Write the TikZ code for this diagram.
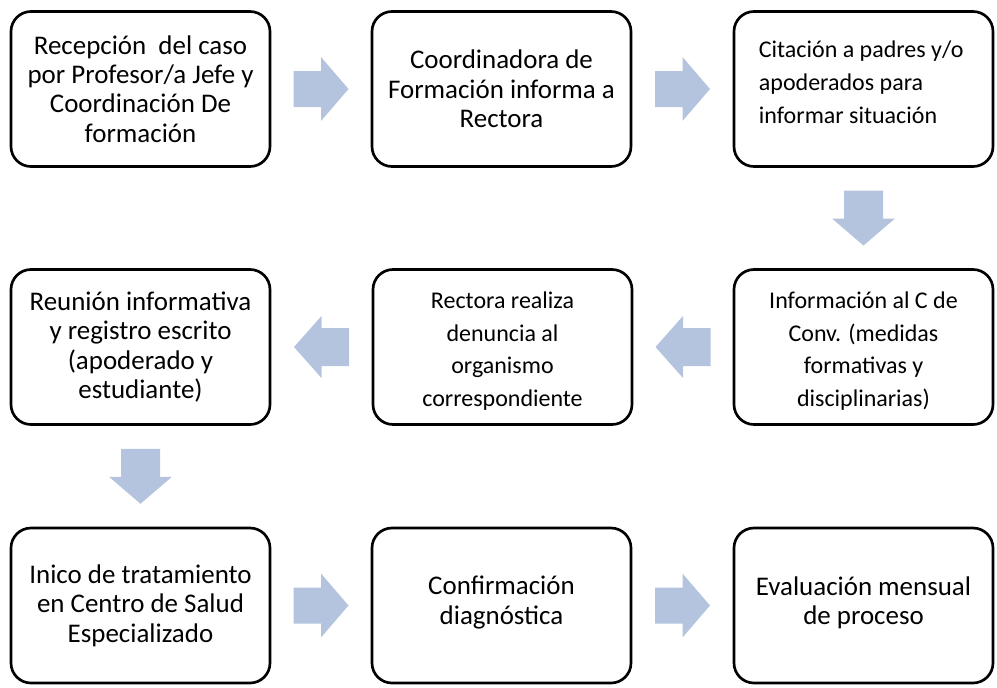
\documentclass[tikz,border=0pt]{standalone}
\usepackage{fontspec}
\setmainfont{Carlito}
\usetikzlibrary{calc}
\definecolor{arrowblue}{RGB}{180,196,222}
\newcommand\rightblock[1]{\fill[arrowfill, shift={#1}] (-27.5,-18) -- (0,-18) -- (0,-32) -- (27.5,0) -- (0,32) -- (0,18) -- (-27.5,18) -- cycle;}
\newcommand\leftblock[1]{\fill[arrowfill, shift={#1}] (27.5,-19) -- (0,-19) -- (0,-31) -- (-27.5,0) -- (0,31) -- (0,19) -- (27.5,19) -- cycle;}
\newcommand\downblock[1]{\fill[arrowfill, shift={#1}] (-19.5,-27.5) -- (-19.5,0.5) -- (-31.5,0.5) -- (0,27.5) -- (31.5,0.5) -- (19.5,0.5) -- (19.5,-27.5) -- cycle;}
\begin{document}
\begin{tikzpicture}[x=0.75pt,y=-0.75pt,
  box/.style={draw=black, line width=2pt, rounded corners=15pt, minimum width=194.25pt, minimum height=116.25pt, inner sep=0pt},
  big/.style={font=\fontsize{20.2pt}{22pt}\selectfont, align=center, inner sep=0pt},
  small/.style={font=\fontsize{18pt}{24.6pt}\selectfont, align=center, inner sep=0pt},
  arrowfill/.style={fill=arrowblue}]
\useasboundingbox (0,0) rectangle (997,687);
% boxes
\node[box] (b1) at (140.5,89) {};
\node[box] (b2) at (501.5,89) {};
\node[box] (b3) at (863.5,89) {};
\node[box] (b4) at (140.5,347) {};
\node[box] (b5) at (502.5,347) {};
\node[box] (b6) at (863.5,347) {};
\node[box] (b7) at (140.5,605.5) {};
\node[box] (b8) at (501.5,605.5) {};
\node[box] (b9) at (863.5,605.5) {};
% texts
\node[big] (t1) at (b1.center) {Recepción~~del caso\\por Profesor/a Jefe y\\Coordinación De\\formación};
\node[big] (t2) at (b2.center) {Coordinadora de\\Formación informa a\\Rectora};
\node[small, align=left, anchor=west] (t3) at ($(b3.west)+(26,-7)$) {Citación a padres y/o\\apoderados para\\informar situación};
\node[big] (t4) at (b4.center) {Reunión informativa\\y registro escrito\\(apoderado y\\estudiante)};
\node[small] (t5) at ($(b5.center)+(0,4)$) {Rectora realiza\\denuncia al\\organismo\\correspondiente};
\node[small] (t6) at ($(b6.center)+(0,4)$) {Información al C de\\Conv. (medidas\\formativas y\\disciplinarias)};
\node[big] (t7) at (b7.center) {Inico de tratamiento\\en Centro de Salud\\Especializado};
\node[big] (t8) at ($(b8.center)+(0,-3)$) {Confirmación\\diagnóstica};
\node[big] (t9) at ($(b9.center)+(0,-3)$) {Evaluación mensual\\de proceso};
% block arrows
\rightblock{($(b1.east)!0.5!(b2.west)$)}
\rightblock{($(b2.east)!0.5!(b3.west)$)}
\downblock{($(b3.south)!0.5!(b6.north)$)}
\leftblock{($(b6.west)!0.5!(b5.east)$)}
\leftblock{($(b5.west)!0.5!(b4.east)$)}
\downblock{($(b4.south)!0.5!(b7.north)$)}
\rightblock{($(b7.east)!0.5!(b8.west)$)}
\rightblock{($(b8.east)!0.5!(b9.west)$)}
\end{tikzpicture}
\end{document}
